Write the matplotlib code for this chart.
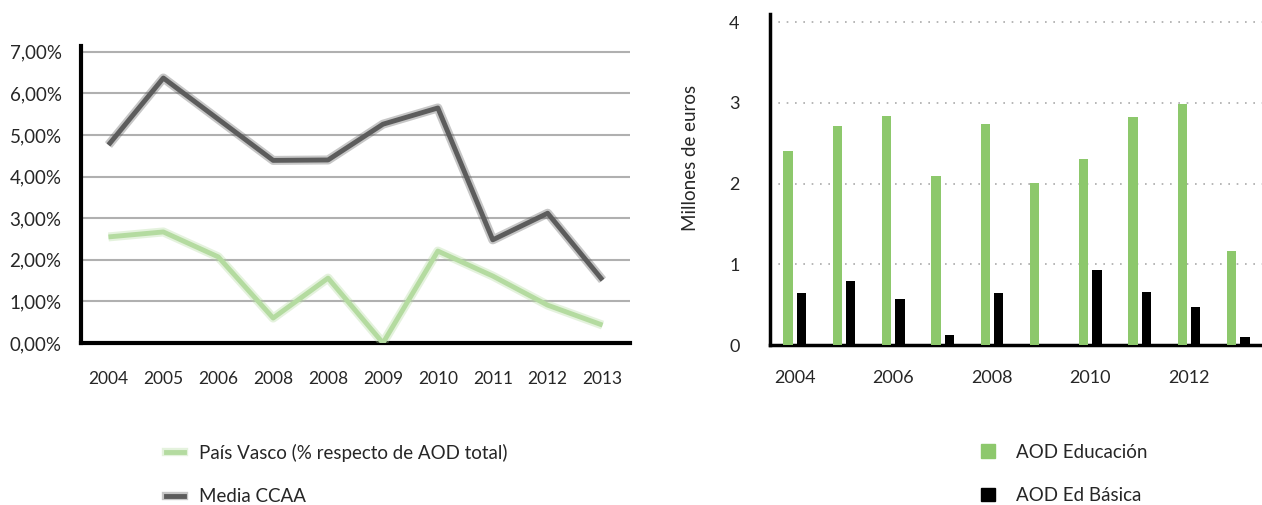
import matplotlib.pyplot as plt
import matplotlib.patheffects as pe
from matplotlib.lines import Line2D
from matplotlib.patches import Patch

plt.rcParams['font.family'] = ['Lato', 'DejaVu Sans']

# Left panel: share of education aid (%)
years_left = ['2004', '2005', '2006', '2008', '2008', '2009', '2010', '2011', '2012', '2013']
pais_vasco = [2.55, 2.67, 2.07, 0.60, 1.56, 0.0, 2.21, 1.61, 0.91, 0.43]
media_ccaa = [4.76, 6.37, 5.38, 4.39, 4.40, 5.26, 5.65, 2.48, 3.12, 1.51]
pct_ticks = [0, 1, 2, 3, 4, 5, 6, 7]
pct_labels = ['0,00%', '1,00%', '2,00%', '3,00%', '4,00%', '5,00%', '6,00%', '7,00%']

# Right panel: amounts in millions of euros
years_right = [2004, 2005, 2006, 2007, 2008, 2009, 2010, 2011, 2012, 2013]
aod_educacion = [2.40, 2.71, 2.84, 2.09, 2.74, 2.01, 2.30, 2.83, 2.99, 1.17]
aod_basica = [0.64, 0.79, 0.57, 0.13, 0.64, 0.0, 0.93, 0.66, 0.47, 0.10]
eur_ticks = [0, 1, 2, 3, 4]

GREEN_LINE = '#b4dba0'
GREY_LINE = '#5c5c5c'
GREEN_BAR = '#8dc86c'
TXT = '#262626'

fig = plt.figure(figsize=(12.62, 5.05), dpi=100)

# ---- line chart ----
ax1 = fig.add_axes([81 / 1262, 1 - 343 / 505, (630 - 81) / 1262, (343 - 46) / 505])
xs = list(range(len(years_left)))
for vals, col in ((media_ccaa, GREY_LINE), (pais_vasco, GREEN_LINE)):
    ax1.plot(xs, vals, color=col, lw=3.5, solid_capstyle='butt', zorder=3,
             path_effects=[pe.Stroke(linewidth=6.5, foreground=col, alpha=0.35), pe.Normal()])
ax1.set_xlim(-0.5, 9.5)
ax1.set_ylim(0, 7.14)
ax1.set_yticks(pct_ticks)
ax1.set_yticklabels(pct_labels)
ax1.set_xticks(xs)
ax1.set_xticklabels(years_left)
ax1.grid(axis='y', color='#b0b0b0', lw=1.5)
ax1.set_axisbelow(True)
for s in ('top', 'right'):
    ax1.spines[s].set_visible(False)
ax1.spines['left'].set_linewidth(3)
ax1.spines['bottom'].set_linewidth(3)
ax1.tick_params(axis='both', length=0, labelsize=13.5, colors=TXT)
ax1.tick_params(axis='y', pad=14)
ax1.tick_params(axis='x', pad=20, labelsize=12.5)

# ---- bar chart ----
ax2 = fig.add_axes([770 / 1262, 1 - 345 / 505, (1262 - 770) / 1262, (345 - 14) / 505])
idx = list(range(len(years_right)))
w = 0.19
ax2.bar([i - 0.135 for i in idx], aod_educacion, width=w, color=GREEN_BAR, zorder=3)
ax2.bar([i + 0.135 for i in idx], aod_basica, width=w, color='black', zorder=3)
ax2.set_xlim(-0.5, 9.48)
ax2.set_ylim(0, 4.1)
ax2.set_yticks(eur_ticks)
ax2.set_xticks(idx[::2])
ax2.set_xticklabels([str(y) for y in years_right[::2]])
ax2.grid(axis='y', color='#aaaaaa', lw=1.2, linestyle=(0, (1, 4)))
ax2.set_axisbelow(True)
for s in ('top', 'right'):
    ax2.spines[s].set_visible(False)
ax2.spines['left'].set_linewidth(2.5)
ax2.spines['bottom'].set_linewidth(2.5)
ax2.tick_params(axis='both', length=0, labelsize=13, colors=TXT)
ax2.tick_params(axis='y', pad=22)
ax2.tick_params(axis='x', pad=18)
fig.text(690 / 1262, 1 - 158 / 505, 'Millones de euros', rotation=90,
         ha='center', va='center', fontsize=13.5, color=TXT)

# ---- legends ----
h_left = [
    Line2D([], [], color=GREEN_LINE, lw=3.5,
           path_effects=[pe.Stroke(linewidth=6, foreground=GREEN_LINE, alpha=0.35), pe.Normal()]),
    Line2D([], [], color=GREY_LINE, lw=3.5,
           path_effects=[pe.Stroke(linewidth=6, foreground=GREY_LINE, alpha=0.35), pe.Normal()]),
]
fig.legend(h_left, ['País Vasco (% respecto de AOD total)', 'Media CCAA'],
           loc='upper left', bbox_to_anchor=(149 / 1262, 1 - 427 / 505),
           frameon=False, fontsize=13.5, handlelength=0.95, handletextpad=0.8,
           labelspacing=1.4, labelcolor=TXT)

h_right = [Patch(color=GREEN_BAR), Patch(color='black')]
fig.legend(h_right, ['AOD Educación', 'AOD Ed Básica'],
           loc='upper left', bbox_to_anchor=(964 / 1262, 1 - 427 / 505),
           frameon=False, fontsize=13.5, handlelength=0.75, handleheight=0.75,
           handletextpad=1.1, labelspacing=1.4, labelcolor=TXT)

fig.savefig('out.png', dpi=100)
